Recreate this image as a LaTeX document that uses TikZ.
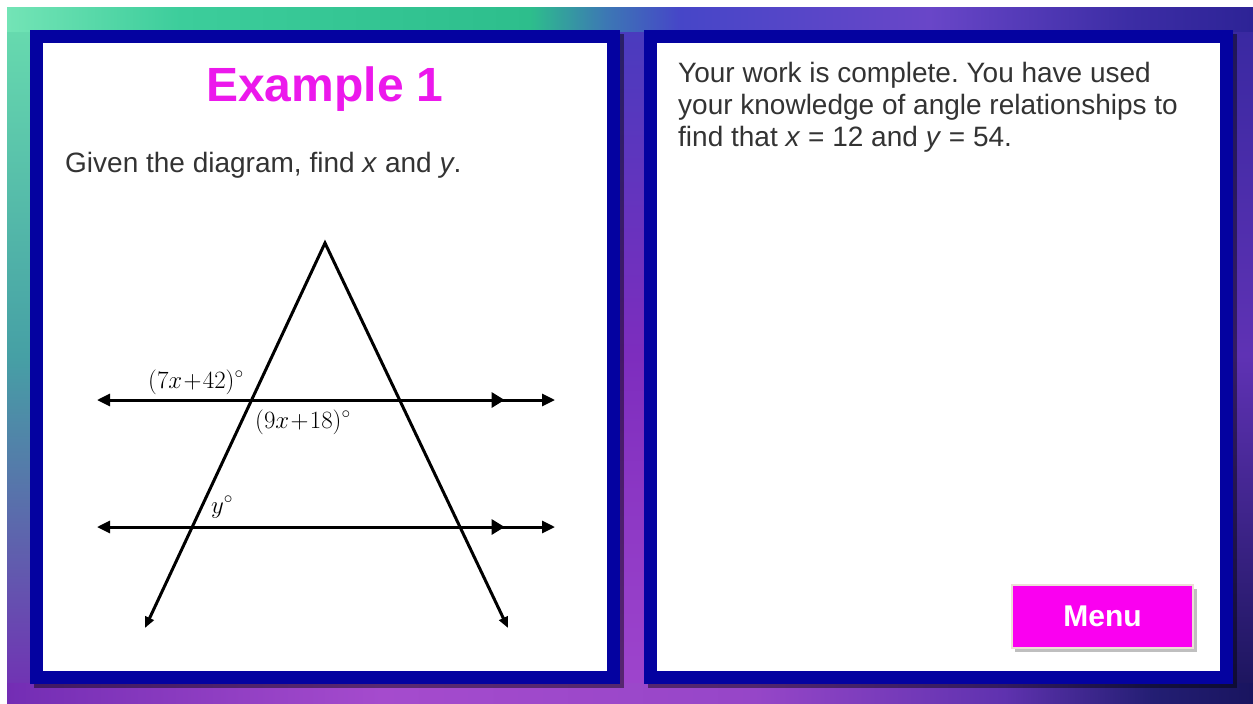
\documentclass[tikz,border=0pt]{standalone}
\usepackage{fontspec}
\setmainfont{Liberation Sans}
\usetikzlibrary{arrows.meta,decorations.markings,shadings}
\definecolor{navy}{RGB}{4,2,160}
\definecolor{titlemag}{RGB}{236,24,236}
\definecolor{btnmag}{RGB}{250,0,240}
\definecolor{btnedge}{RGB}{236,222,214}
\definecolor{bgUL}{RGB}{100,215,170}
\definecolor{bgUR}{RGB}{70,50,175}
\definecolor{bgLL}{RGB}{125,40,175}
\definecolor{bgLR}{RGB}{45,25,125}
\pgfdeclarehorizontalshading{topbg}{100bp}{%
  color(0bp)=(rgb,255:red,115;green,228;blue,182);
  color(25bp)=(rgb,255:red,115;green,228;blue,182);
  color(32bp)=(rgb,255:red,60;green,205;blue,155);
  color(46bp)=(rgb,255:red,45;green,190;blue,140);
  color(49bp)=(rgb,255:red,60;green,120;blue,180);
  color(52bp)=(rgb,255:red,70;green,70;blue,200);
  color(62bp)=(rgb,255:red,105;green,70;blue,200);
  color(70bp)=(rgb,255:red,60;green,45;blue,165);
  color(75bp)=(rgb,255:red,45;green,35;blue,150);
  color(100bp)=(rgb,255:red,45;green,35;blue,150)}
\pgfdeclarehorizontalshading{botbg}{100bp}{%
  color(0bp)=(rgb,255:red,115;green,45;blue,180);
  color(25bp)=(rgb,255:red,115;green,45;blue,180);
  color(40bp)=(rgb,255:red,165;green,75;blue,205);
  color(55bp)=(rgb,255:red,150;green,70;blue,200);
  color(65bp)=(rgb,255:red,95;green,50;blue,175);
  color(71bp)=(rgb,255:red,35;green,30;blue,115);
  color(75bp)=(rgb,255:red,25;green,20;blue,95);
  color(100bp)=(rgb,255:red,25;green,20;blue,95)}
\begin{document}
\begin{tikzpicture}[x=1pt,y=-1pt,
  geo/.style={line width=3pt, black},
  endtips/.style={{Triangle[length=13pt,width=12pt]}-{Triangle[length=13pt,width=12pt]}},
  midmark/.style={postaction={decorate}, decoration={markings, mark=at position 0.89 with {\arrow{Triangle[length=13pt,width=15pt]}}}},
  lab/.style={inner sep=0pt, anchor=base west, font=\fontsize{24}{24}\selectfont},
  body/.style={inner sep=0pt, anchor=base west, font=\fontsize{28}{32}\selectfont\frenchspacing, text=black!80},
]
\useasboundingbox (0,0) rectangle (1253,704);
\fill[white] (0,0) rectangle (1253,704);
\shade[upper left=bgUL, upper right=bgUR, lower left=bgLL, lower right=bgLR] (7,7) rectangle (1253,704);
% background strips
\shade[top color={rgb,255:red,105;green,222;blue,175}, bottom color={rgb,255:red,115;green,45;blue,180}, middle color={rgb,255:red,70;green,160;blue,165}] (7,7) rectangle (30,704);
\shade[top color={rgb,255:red,70;green,60;blue,190}, bottom color={rgb,255:red,160;green,70;blue,205}, middle color={rgb,255:red,125;green,45;blue,190}] (618,7) rectangle (646,704);
\shade[top color={rgb,255:red,55;green,40;blue,160}, bottom color={rgb,255:red,25;green,20;blue,90}, middle color={rgb,255:red,95;green,50;blue,180}] (1231,7) rectangle (1253,704);
\shade[shading=topbg] (7,7) rectangle (1253,31);
\shade[shading=botbg] (7,683) rectangle (1253,704);
% left panel
\fill[black, opacity=.45] (34,34) rectangle (624,688);
\fill[navy] (30,30) rectangle (620,684);
\fill[white] (43,43) rectangle (607,671);
% right panel
\fill[black, opacity=.45] (648,34) rectangle (1237,688);
\fill[navy] (644,30) rectangle (1233,684);
\fill[white] (657,43) rectangle (1220,671);
% texts
\node[inner sep=0pt, anchor=base, font=\fontsize{48}{48}\selectfont\bfseries, text=titlemag] (title) at (325,101) {Example 1};
\node[body] (given) at (65,172) {Given the diagram, find \textit{x} and \textit{y}.};
\node[body] (r1) at (678,82) {Your work is complete. You have used};
\node[body] (r2) at (678,114) {your knowledge of angle relationships to};
\node[body] (r3) at (678,146) {find that \textit{x} = 12 and \textit{y} = 54.};
% diagram
\coordinate (apex) at (325,243);
\coordinate (bl) at (145,628);
\coordinate (br) at (508,628);
\coordinate (h1l) at (97,400);
\coordinate (h1r) at (555,400);
\coordinate (h2l) at (97,527);
\coordinate (h2r) at (555,527);
\draw[geo, line join=miter, {Triangle[length=11pt,width=9pt]}-{Triangle[length=11pt,width=9pt]}] (bl) -- (apex) -- (br);
\draw[geo, endtips, midmark] (h1l) -- (h1r);
\draw[geo, endtips, midmark] (h2l) -- (h2r);
\node[lab] (a1) at (148,388) {$(7x\mskip1mu{+}\mskip1mu42)^\circ$};
\node[lab] (a2) at (255,428) {$(9x\mskip1mu{+}\mskip1mu18)^\circ$};
\node[lab] (a3) at (211,513) {$y^\circ$};
% menu button
\fill[black!25] (1015,589) rectangle (1197,652);
\node[draw=btnedge, line width=2pt, fill=btnmag, minimum width=181pt, minimum height=63pt, inner sep=0pt, text=white, font=\fontsize{30}{30}\selectfont\bfseries] (menu) at (1102.5,616.5) {Menu};
\end{tikzpicture}
\end{document}
